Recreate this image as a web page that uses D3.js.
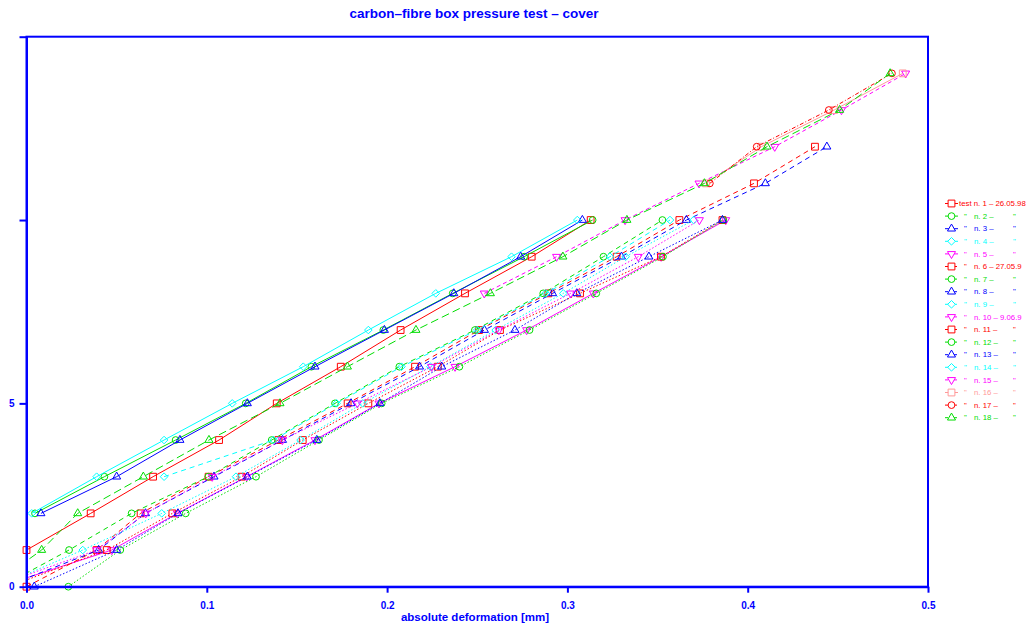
<!DOCTYPE html>
<html>
<head>
<meta charset="utf-8">
<script src="https://cdn.jsdelivr.net/npm/d3@7"></script>
<style>
  body { margin: 0; background: #fff; }
  svg { display: block; font-family: "Liberation Sans", Arial, sans-serif; }
</style>
</head>
<body>
<div id="chart"></div>
<script>
// Load levels (y) are the array index; values are the deformation in mm (x)
const test01 = [null, 0.000, 0.0356, 0.0702, 0.1068, 0.1388, 0.1743, 0.2075, 0.2432, 0.2802, 0.3129]
const test02 = [null, null, 0.0047, 0.0432, 0.0827, 0.1216, 0.1580, 0.1979, 0.2364, 0.2760, 0.3140]
const test03 = [null, null, 0.0080, 0.0500, 0.0851, 0.1225, 0.1600, 0.1985, 0.2370, 0.2741, 0.3083]
const test04 = [null, null, 0.0029, 0.0389, 0.0763, 0.1141, 0.1535, 0.1896, 0.2270, 0.2690, 0.3055]
const test05 = [-0.015, 0.0473, 0.0836, 0.1221, 0.1600, 0.1955, 0.2377, 0.2774, 0.3144, 0.3520, 0.3878]
const test06 = [0.000, 0.0389, 0.0633, 0.1010, 0.1397, 0.1781, 0.2155, 0.2510, 0.2894, 0.3273, 0.3621, 0.4035, 0.4373]
const test07 = [-0.014, 0.0236, 0.0583, 0.1008, 0.1360, 0.1711, 0.2068, 0.2487, 0.2866, 0.3200, 0.3527]
const test08 = [-0.012, 0.0400, 0.0660, 0.1040, 0.1420, 0.1800, 0.2180, 0.2540, 0.2918, 0.3300, 0.3660, 0.4098, 0.4439]
const test09 = [null, null, null, 0.0763, 0.1370, 0.1720, 0.2080, 0.2500, 0.2880, 0.3236, 0.3569]
const test10 = [null, null, null, null, null, null, null, null, 0.2539, 0.2940, 0.3320, 0.3730, 0.4150, 0.4520, 0.4876]
const test11 = [-0.010, 0.0445, 0.0809, 0.1193, 0.1532, 0.1896, 0.2281, 0.2626, 0.3070, 0.3519, 0.3860]
const test12 = [0.0232, 0.0520, 0.0883, 0.1273, 0.1622, 0.1970, 0.2401, 0.2790, 0.3160, 0.3530, 0.3865]
const test13 = [0.0043, 0.0500, 0.0840, 0.1225, 0.1610, 0.1960, 0.2303, 0.2709, 0.3052, 0.3452, 0.3860]
const test14 = [-0.016, 0.0312, 0.0750, 0.1162, 0.1520, 0.1865, 0.2240, 0.2602, 0.2977, 0.3323, 0.3700]
const test15 = [-0.018, 0.0389, 0.0661, 0.1030, 0.1419, 0.1835, 0.2247, 0.2620, 0.3018, 0.3393, 0.3732]
const test16 = [null, null, null, null, null, null, null, null, null, null, null, 0.3769, 0.4076, 0.4479, 0.4860]
const test17 = [null, null, null, null, null, null, null, null, null, null, null, 0.3790, 0.4050, 0.4450, 0.4800]
const test18 = [-0.020, 0.0084, 0.0284, 0.0648, 0.1012, 0.1406, 0.1780, 0.2160, 0.2573, 0.2975, 0.3330, 0.3760, 0.4107, 0.4510, 0.4790]

const tests = [test01, test02, test03, test04, test05, test06, test07, test08, test09,
  test10, test11, test12, test13, test14, test15, test16, test17, test18]

const testNumbers = ['1', '2', '3', '4', '5', '6', '7', '8', '9', '10', '11', '12', '13', '14', '15', '16', '17', '18']
const testDates = ['26.05.98', '', '', '', '', '27.05.9', '', '', '', '9.06.9', '', '', '', '', '', '', '', '']

const xTicks = [0, 0.1, 0.2, 0.3, 0.4, 0.5]
const yTicks = [0, 5, 10, 15]
const yTickLabels = ['0', '5', '', '']

// Styles
const colors = ['#ff0000', '#00dd00', '#0000ff', '#00ffff', '#ff00ff',
  '#ff0000', '#00dd00', '#0000ff', '#00ffff', '#ff00ff',
  '#ff0000', '#00dd00', '#0000ff', '#00ffff', '#ff00ff',
  '#ff9999', '#ff0000', '#00dd00']
const shapes = ['square', 'circle', 'triangle', 'diamond', 'tridown']
const dashes = ['', '', '', '', '',
  '5,4', '5,4', '5,4', '5,4', '4,3',
  '1.5,2', '1.5,2', '1.5,2', '1.5,2', '1.5,2',
  '', '4,2,1,2', '8,4']

const width = 1028
const height = 625
const axisColor = '#0000ff'

const svg = d3.select('#chart')
  .append('svg')
  .attr('width', width)
  .attr('height', height)

const x = d3.scaleLinear().domain([0, 0.5]).range([26.5, 928])
const y = d3.scaleLinear().domain([0, 15]).range([586.7, 36.7])

svg.append('clipPath')
  .attr('id', 'plot-clip')
  .append('rect')
  .attr('x', x(0))
  .attr('y', y(15))
  .attr('width', x(0.5) - x(0))
  .attr('height', y(0) - y(15))

// Marker path generator
function markerPath (shape) {
  if (shape === 'square') return d3.symbol(d3.symbolSquare, 46)()
  if (shape === 'circle') return d3.symbol(d3.symbolCircle, 36)()
  if (shape === 'triangle') return d3.symbol(d3.symbolTriangle, 28)()
  if (shape === 'tridown') return d3.symbol(d3.symbolTriangle, 28)()
  return 'M0,-3.8L3.8,0L0,3.8L-3.8,0Z'
}
function markerRotate (shape) {
  return shape === 'tridown' ? ' rotate(180)' : ''
}

const line = d3.line()
  .defined(d => d.x !== null)
  .x(d => x(d.x))
  .y(d => y(d.load))

const plot = svg.append('g')

tests.forEach((values, i) => {
  const pts = values.map((v, load) => ({ x: v, load: load })).filter(d => d.x !== null)
  const shape = shapes[i % 5]

  plot.append('path')
    .datum(pts)
    .attr('clip-path', 'url(#plot-clip)')
    .attr('fill', 'none')
    .attr('stroke', colors[i])
    .attr('stroke-width', 1)
    .attr('stroke-dasharray', dashes[i] || null)
    .attr('d', line)

  plot.selectAll(null)
    .data(pts.filter(d => d.x >= 0))
    .enter()
    .append('path')
    .attr('transform', d => `translate(${x(d.x)},${y(d.load)})${markerRotate(shape)}`)
    .attr('d', markerPath(shape))
    .attr('fill', 'none')
    .attr('stroke', colors[i])
    .attr('stroke-width', 1)
})

// Frame
svg.append('rect')
  .attr('x', x(0))
  .attr('y', y(15))
  .attr('width', x(0.5) - x(0))
  .attr('height', y(0) - y(15))
  .attr('fill', 'none')
  .attr('stroke', axisColor)
  .attr('stroke-width', 2)

// Bottom axis
const xAxis = svg.append('g')
  .attr('transform', `translate(0, ${y(0)})`)
  .call(d3.axisBottom(x).tickValues(xTicks).tickSize(6).tickSizeOuter(0).tickPadding(9).tickFormat(d3.format('.1f')))
xAxis.select('.domain').attr('stroke', axisColor).attr('stroke-width', 2)
xAxis.selectAll('.tick line').attr('stroke', axisColor).attr('stroke-width', 2)
xAxis.selectAll('.tick text')
  .attr('fill', axisColor)
  .style('font-size', '10px')
  .style('font-weight', 'bold')
  .style('font-family', '"Liberation Sans", Arial, sans-serif')

// Left axis
const yAxis = svg.append('g')
  .attr('transform', `translate(${x(0)}, 0)`)
  .call(d3.axisLeft(y).tickValues(yTicks).tickSize(7).tickSizeOuter(0).tickPadding(5).tickFormat((d, i) => yTickLabels[i]))
yAxis.select('.domain').attr('stroke', axisColor).attr('stroke-width', 2)
yAxis.selectAll('.tick line').attr('stroke', axisColor).attr('stroke-width', 2)
yAxis.selectAll('.tick text')
  .attr('fill', axisColor)
  .style('font-size', '10px')
  .style('font-weight', 'bold')
  .style('font-family', '"Liberation Sans", Arial, sans-serif')

// Title and axis label
svg.append('text')
  .attr('x', 474)
  .attr('y', 18)
  .attr('text-anchor', 'middle')
  .attr('fill', axisColor)
  .style('font-size', '13.5px')
  .style('font-weight', 'bold')
  .text('carbon–fibre box pressure test – cover')

svg.append('text')
  .attr('x', 475)
  .attr('y', 621)
  .attr('text-anchor', 'middle')
  .attr('fill', axisColor)
  .style('font-size', '11.5px')
  .style('font-weight', 'bold')
  .text('absolute deformation [mm]')

// Legend
const legend = svg.append('g')
  .attr('transform', 'translate(945, 203.5)')

tests.forEach((values, i) => {
  const shape = shapes[i % 5]
  const row = legend.append('g').attr('transform', `translate(0, ${i * 12.6})`)

  row.append('line')
    .attr('x1', 0)
    .attr('x2', 13)
    .attr('stroke', colors[i])
    .attr('stroke-width', 1)
    .attr('stroke-dasharray', dashes[i] ? '3,1.5' : null)

  row.append('path')
    .attr('transform', `translate(6.5, 0)${markerRotate(shape)}`)
    .attr('d', markerPath(shape))
    .attr('fill', '#fff')
    .attr('stroke', colors[i])
    .attr('stroke-width', 1)

  const label = row.append('g')
    .attr('fill', colors[i])
    .style('font-size', '7.8px')

  if (i === 0) {
    label.append('text')
      .attr('x', 14)
      .attr('y', 2.7)
      .text(`test n. ${testNumbers[i]} – ${testDates[i]}`)
  } else {
    label.append('text').attr('x', 19).attr('y', 2.7).text('"')
    label.append('text')
      .attr('x', 29)
      .attr('y', 2.7)
      .text(`n. ${testNumbers[i]} – ` + (testDates[i] ? ` ${testDates[i]}` : ''))
    if (!testDates[i]) {
      label.append('text').attr('x', 68).attr('y', 2.7).text('"')
    }
  }
})
</script>
</body>
</html>
